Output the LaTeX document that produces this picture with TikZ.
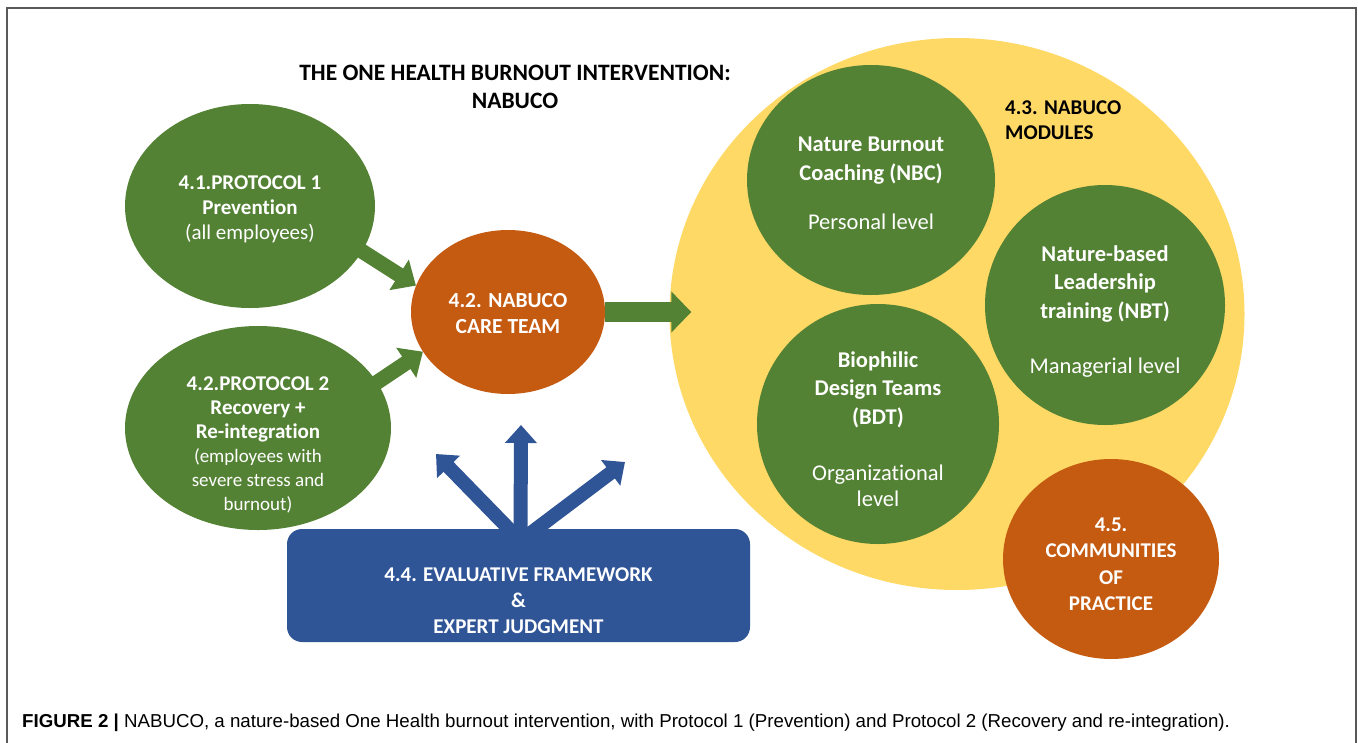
\documentclass[tikz,border=0pt]{standalone}
\usepackage{fontspec}
\setmainfont{Carlito}[Ligatures=CommonOff]
\newfontfamily\capfont{Liberation Sans}
\usetikzlibrary{shapes.geometric,arrows.meta,backgrounds}
\newcommand\smalltext[1]{{\mdseries\fontsize{19}{24}\selectfont #1}}
\newcommand\lift[1]{\rule{0pt}{#1}}

\begin{document}
\begin{tikzpicture}[x=1pt, y=-1pt,
  blob/.style={ellipse, inner sep=0pt, align=center, text=white},
  proto/.style={blob, fill=natgreen, minimum width=250pt, minimum height=204pt, font=\fontsize{21}{25}\selectfont\bfseries},
  care/.style={blob, fill=careorange, minimum width=194pt, minimum height=164pt, font=\fontsize{21.5}{26}\selectfont\bfseries},
  module/.style={blob, fill=natgreen, font=\fontsize{22.5}{28.5}\selectfont\bfseries},
  garrow/.style={draw=natgreen, line width=16pt, -{Triangle[width=35pt,length=20pt]}},
  barrow/.style={draw=evalblue, line width=14pt, -{Triangle[width=31pt,length=18pt]}}]
\definecolor{natgreen}{RGB}{84,130,53}
\definecolor{careorange}{RGB}{197,90,17}
\definecolor{modyellow}{RGB}{255,217,102}
\definecolor{evalblue}{RGB}{47,85,151}
\useasboundingbox (0,0) rectangle (1358,742);
\draw[black!65, line width=2pt] (7,770) -- (7,8) -- (1356,8) -- (1356,770);

\node[anchor=north, inner sep=0pt, align=center, font=\fontsize{23.5}{28}\selectfont\bfseries] (title) at (515,65) {THE ONE HEALTH BURNOUT INTERVENTION:\\NABUCO};

% protocols and care team
\node[proto] (p1) at (250,206) {\lift{19.5pt}4.1.PROTOCOL 1\\Prevention\\{\mdseries (all employees)}};
\node[proto, minimum width=266pt] (p2) at (258,428) {};
\node[align=center, text=white, inner sep=0pt, font=\fontsize{21}{24}\selectfont\bfseries] (p2text) at (258,445) {4.2.PROTOCOL 2\\Recovery +\\Re-integration\\\smalltext{(employees with}\\\smalltext{severe stress and}\\\smalltext{burnout)}};
\node[care] (care) at (508,312) {\lift{18pt}4.2. NABUCO\\CARE TEAM};

\begin{scope}[on background layer]
\draw[garrow, line width=15pt, shorten <=-8pt] (p1.-22) -- (care.164);
\draw[garrow, line width=15pt, shorten <=-8pt] (p2.21) -- (care.205);
\end{scope}

% modules
\node[ellipse, fill=modyellow, minimum width=575pt, minimum height=552pt] (mods) at (957,314) {};
\draw[garrow, line width=20pt, -{Triangle[width=40pt,length=20pt]}, shorten >=-22pt] (care.east) -- (care.east -| mods.west);
\node[anchor=north west, inner sep=0pt, align=left, font=\fontsize{21}{25}\selectfont\bfseries] (modtitle) at (1005,101) {4.3. NABUCO\\MODULES};
\node[module, minimum width=248pt, minimum height=230pt] (nbc) at (871,180) {\lift{21.5pt}Nature Burnout\\Coaching (NBC)\\[21pt]{\mdseries Personal level}};
\node[module, minimum width=240pt, minimum height=240pt] (nbt) at (1105,305) {\lift{29pt}Nature-based\\Leadership\\training (NBT)\\[27pt]{\mdseries Managerial level}};
\node[module, minimum width=242pt, minimum height=240pt] (bdt) at (878,424) {\lift{26pt}Biophilic\\Design Teams\\(BDT)\\[28pt]{\mdseries Organizational}\\[-3pt]{\mdseries level}};
\node[blob, fill=careorange, minimum width=216pt, minimum height=200pt, font=\fontsize{21}{26.5}\selectfont\bfseries] (cop) at (1111,559) {\lift{24.5pt}4.5.\\COMMUNITIES\\OF\\PRACTICE};

% evaluation
\node[fill=evalblue, text=white, rounded corners=15pt, minimum width=463pt, minimum height=113pt, align=center, font=\fontsize{21}{26}\selectfont\bfseries] (box) at (518.5,585.5) {\lift{43.5pt}4.4. EVALUATIVE FRAMEWORK\\\&\\EXPERT JUDGMENT};
\coordinate (evup) at (521,425);
\coordinate (evleft) at (436,454);
\coordinate (evright) at (625,462);
\begin{scope}[on background layer]
\foreach \t in {evleft,evup,evright}
  \draw[barrow] ([xshift=2pt,yshift=-12pt]box.north) -- (\t);
\end{scope}

\node[anchor=base west, inner sep=0pt, font=\capfont\fontsize{18.7}{20}\selectfont] (caption) at (22,727) {\textbf{FIGURE 2 |} NABUCO, a nature-based One Health burnout intervention, with Protocol 1 (Prevention) and Protocol 2 (Recovery and re-integration).};
\end{tikzpicture}
\end{document}
